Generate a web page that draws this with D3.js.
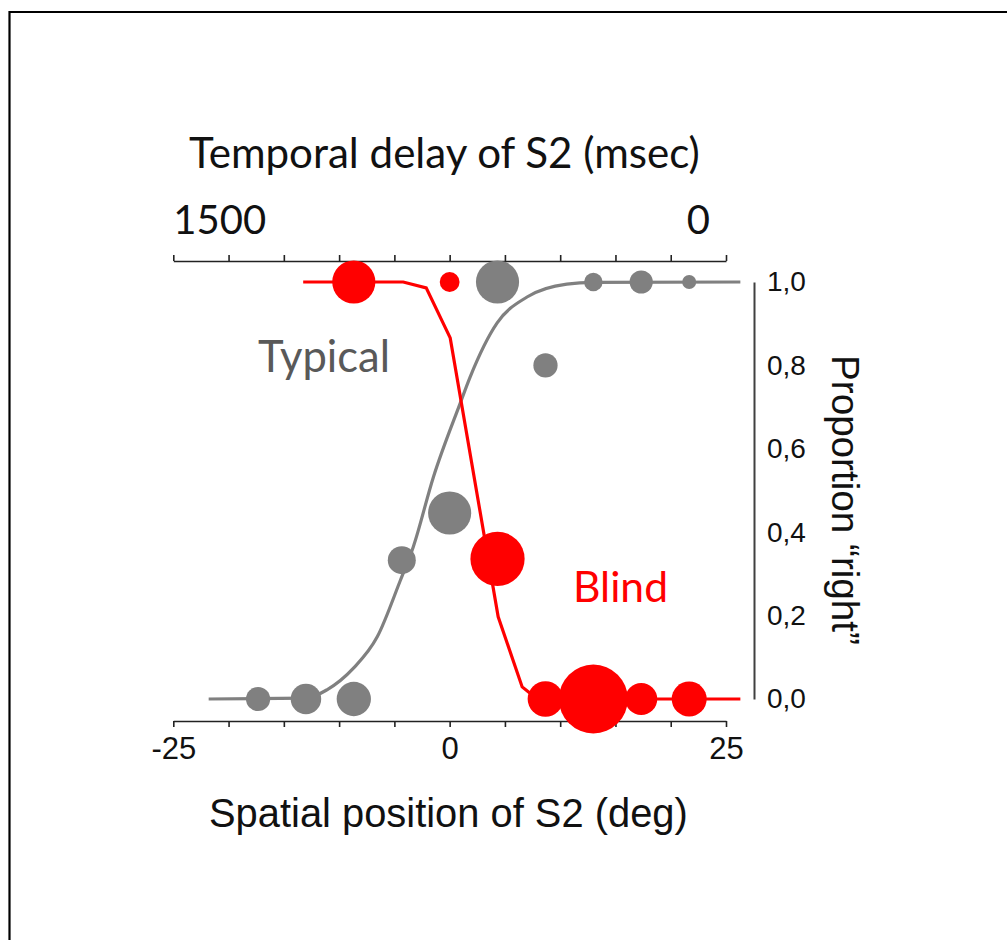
<!DOCTYPE html>
<html>
<head>
<meta charset="utf-8">
<script src="https://cdn.jsdelivr.net/npm/d3@7"></script>
<style>
  html, body { margin: 0; padding: 0; background: #ffffff; }
  svg { display: block; }
</style>
</head>
<body>
<svg id="chart" width="1007" height="940"></svg>
<script>
// ---------------- DATA ----------------
// Spatial position of S2 (deg) for the observed points
const typicalDeg  = [-17.33, -13, -8.67, -4.33, 0, 4.33, 8.67, 13, 17.33, 21.67];
const typicalProp = [0, 0, 0, 0.333, 0.446, 1, 0.80, 1, 1, 1];
const typicalN    = [12, 19, 24, 16, 38, 38, 12, 7, 11, 4];

const blindDeg  = [-8.67, 0, 4.33, 8.67, 13, 17.33, 21.67];
const blindProp = [1, 1, 0.336, 0, 0, 0, 0];
const blindN    = [38, 8, 60, 26, 97, 21, 25];

// Fitted curves
const typicalFitDeg  = [-21.8, -13, -11.1, -8.7, -6.55, -4.48, -3.3, -1.46, 0.95, 1.85, 4.3, 7.0, 10.6, 13, 26.3];
const typicalFitProp = [0, 0.002, 0.022, 0.074, 0.149, 0.283, 0.364, 0.533, 0.709, 0.772, 0.902, 0.964, 0.995, 0.999, 1];

const blindFitDeg  = [-13.25, -4.2, -2.12, 0.05, 4.39, 6.56, 7.37, 8.67, 26.3];
const blindFitProp = [1, 1, 0.986, 0.866, 0.197, 0.029, 0.012, 0, 0];

// Axes
const spatialTicks  = [-25, -20, -15, -10, -5, 0, 5, 10, 15, 20, 25];
const spatialLabels = [-25, 0, 25];
const delayTicks    = [1500, 1350, 1200, 1050, 900, 750, 600, 450, 300, 150, 0];
const delayLabels   = [1500, 0];
const propTicks     = [0, 0.2, 0.4, 0.6, 0.8, 1.0];

const topTitle    = "Temporal delay of S2 (msec)";
const bottomTitle = "Spatial position of S2 (deg)";
const rightTitle  = "Proportion \u201Cright\u201D";
const typicalName = "Typical";
const blindName   = "Blind";

// ---------------- DRAWING ----------------
const svg = d3.select("#chart");
const GREY = "#808080", RED = "#ff0000", DARK = "#595959";
const calibriLike = "Lato, 'Open Sans', sans-serif";
const arialLike = "'Liberation Sans', Arial, sans-serif";

const x = d3.scaleLinear().domain([-25, 25]).range([173.3, 726]);
const xTop = d3.scaleLinear().domain([1500, 0]).range([173.3, 726]);
const y = d3.scaleLinear().domain([0, 1]).range([699, 282]);
const r = d3.scaleSqrt().domain([0, 100]).range([0, 35]);

function fit(t, w) {
  const l = t.node().getComputedTextLength();
  const fs = parseFloat(t.attr("font-size"));
  if (l > 0) t.attr("font-size", fs * w / l);
  return t;
}

// frame
svg.append("path")
  .attr("d", "M9.5,945 V12 H1012")
  .attr("fill", "none").attr("stroke", "#000").attr("stroke-width", 2.2);

// top axis
const topAxis = svg.append("g").attr("transform", "translate(0,261)")
  .call(d3.axisTop(xTop).tickValues(delayTicks).tickSize(6).tickSizeOuter(0).tickFormat(""));
topAxis.selectAll("path,line").attr("stroke", "#222").attr("stroke-width", 1.6);

svg.selectAll("text.toplab").data(delayLabels).join("text")
  .attr("class", "toplab")
  .attr("x", d => d === 1500 ? xTop(d) : xTop(d) - 16)
  .attr("y", 234)
  .attr("text-anchor", d => d === 1500 ? "start" : "end")
  .attr("font-family", calibriLike).attr("font-size", 40).attr("fill", "#111")
  .text(d => d);

// bottom axis
const botAxis = svg.append("g").attr("transform", "translate(0,721)")
  .call(d3.axisBottom(x).tickValues(spatialTicks).tickSize(6).tickSizeOuter(0).tickPadding(10)
    .tickFormat(d => spatialLabels.includes(d) ? d : ""));
botAxis.selectAll("path,line").attr("stroke", "#222").attr("stroke-width", 1.6);
botAxis.selectAll("text").attr("font-family", arialLike).attr("font-size", 31).attr("fill", "#111");

// right axis
const commaFmt = d3.formatLocale({decimal: ",", thousands: ".", grouping: [3], currency: ["", ""]}).format(".1f");
const rightAxis = svg.append("g").attr("transform", "translate(754,0)")
  .call(d3.axisRight(y).tickValues(propTicks).tickSize(0).tickPadding(13).tickFormat(commaFmt));
rightAxis.select("path").attr("stroke", "#404040").attr("stroke-width", 2);
rightAxis.selectAll("text").attr("font-family", arialLike).attr("font-size", 28).attr("fill", "#111");

// curves
const lineGen = d3.line().x(d => x(d[0])).y(d => y(d[1]));
svg.append("path")
  .datum(d3.zip(typicalFitDeg, typicalFitProp))
  .attr("d", lineGen.curve(d3.curveMonotoneX))
  .attr("fill", "none").attr("stroke", GREY).attr("stroke-width", 3.2);
svg.append("path")
  .datum(d3.zip(blindFitDeg, blindFitProp))
  .attr("d", d3.line().x(d => x(d[0])).y(d => y(d[1])))
  .attr("fill", "none").attr("stroke", RED).attr("stroke-width", 3.2);

// points
svg.append("g").selectAll("circle")
  .data(d3.zip(typicalDeg, typicalProp, typicalN)).join("circle")
  .attr("cx", d => x(d[0])).attr("cy", d => y(d[1])).attr("r", d => r(d[2]))
  .attr("fill", GREY);
svg.append("g").selectAll("circle")
  .data(d3.zip(blindDeg, blindProp, blindN)).join("circle")
  .attr("cx", d => x(d[0])).attr("cy", d => y(d[1])).attr("r", d => r(d[2]))
  .attr("fill", RED);

// titles
fit(svg.append("text").attr("x", 189).attr("y", 168)
  .attr("font-family", calibriLike).attr("font-size", 38).attr("fill", "#111")
  .text(topTitle), 511);

fit(svg.append("text").attr("x", 209).attr("y", 827)
  .attr("font-family", arialLike).attr("font-size", 40).attr("fill", "#111")
  .text(bottomTitle), 479);

fit(svg.append("text").attr("transform", "translate(832,355) rotate(90)")
  .attr("font-family", arialLike).attr("font-size", 39).attr("fill", "#111")
  .text(rightTitle), 290);

fit(svg.append("text").attr("x", 258).attr("y", 372)
  .attr("font-family", calibriLike).attr("font-size", 40).attr("fill", DARK)
  .text(typicalName), 132);

fit(svg.append("text").attr("x", 573).attr("y", 602)
  .attr("font-family", calibriLike).attr("font-size", 40).attr("fill", RED)
  .text(blindName), 95);
</script>
</body>
</html>
